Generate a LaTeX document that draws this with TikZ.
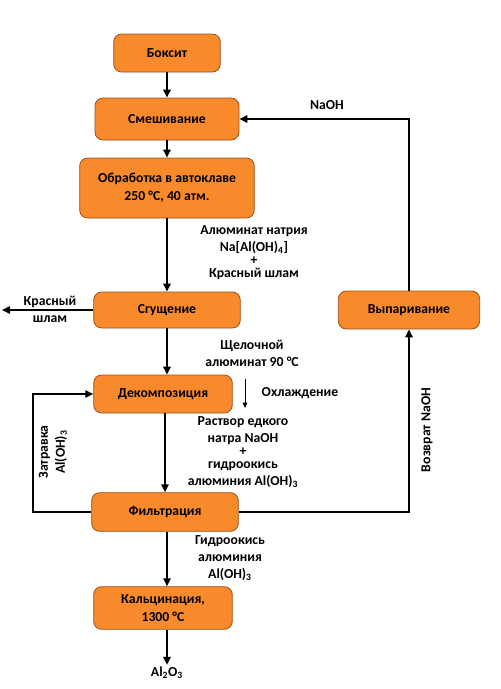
\documentclass[tikz,border=0pt]{standalone}
\usepackage{fontspec}
\setmainfont{Carlito}
\usetikzlibrary{arrows.meta}
\definecolor{procfill}{HTML}{F98A2C}
\definecolor{procline}{HTML}{9A4E1C}
\begin{document}
\begin{tikzpicture}[x=0.75pt,y=-0.75pt,>={Triangle[length=6pt,width=5.5pt]},line width=1.4pt]
	\def \mainx{167}
	\def \loopx{409}

	\tikzstyle{proc}=[rectangle,rounded corners=6pt,draw=procline,fill=procfill,line width=0.6pt,align=center,font=\bfseries\fontsize{10.3}{13.5}\selectfont,inner sep=2pt]
	\tikzstyle{annot}=[align=center,font=\bfseries\fontsize{10.3}{12.75}\selectfont,inner sep=1pt]

	\useasboundingbox (0,0) rectangle (500,689);

	% main column
	\node[proc,minimum width=80pt,minimum height=28.5pt]	(bauxite)	at (\mainx,53)	{Боксит};
	\node[proc,minimum width=108pt,minimum height=31.5pt]	(mix)	at (\mainx,119)	{Смешивание};
	\node[proc,minimum width=131pt,minimum height=45pt]	(autoclave)	at (\mainx,188)	{Обработка в автоклаве\\250 °C, 40 атм.};
	\node[proc,minimum width=110pt,minimum height=27pt]	(thick)	at (\mainx,310)	{Сгущение};
	\node[proc,minimum width=104pt,minimum height=28.5pt]	(decomp)	at (163,394)	{Декомпозиция};
	\node[proc,minimum width=110pt,minimum height=29pt]	(filtr)	at (165,512)	{Фильтрация};
	\node[proc,minimum width=104pt,minimum height=32pt]	(calc)	at (163,608)	{Кальцинация,\\1300 °C};
	\node[annot]	(product)	at (\mainx,673)	{Al\textsubscript{2}O\textsubscript{3}};

	% right column
	\node[proc,minimum width=106pt,minimum height=28.5pt]	(evap)	at (\loopx,310)	{Выпаривание};

	% labels
	\node[annot]	(aluminate)	at (254,253)	{Алюминат натрия\\Na[Al(OH)\textsubscript{4}]\\[-3pt]+\\[-3pt]Красный шлам};
	\node[annot]	(mud)	at (50,309)	{Красный\\шлам};
	\node[annot]	(alkaline)	at (252,353)	{Щелочной\\алюминат 90 °C};
	\node[annot]	(cooling)	at (300,393)	{Охлаждение};
	\node[annot]	(solution)	at (243,452)	{Раствор едкого\\натра NaOH\\[-3pt]+\\[-3pt]гидроокись\\алюминия Al(OH)\textsubscript{3}};
	\node[annot]	(hydroxide)	at (230,558)	{Гидроокись\\алюминия\\Al(OH)\textsubscript{3}};
	\node[annot]	(naoh)	at (327,105)	{NaOH};
	\node[annot,rotate=90]	(return)	at (427,430)	{Возврат NaOH};
	\node[annot,rotate=90]	(seed)	at (53,452)	{Затравка\\Al(OH)\textsubscript{3}};

	\coordinate (mudend) at (2,310);
	\coordinate (cooltop) at (245,379);
	\coordinate (coolbot) at (245,408);

	\draw[->] (bauxite) -- (mix);
	\draw[->] (mix) -- (autoclave);
	\draw[->] (autoclave) -- (thick);
	\draw[->] (thick) -- (decomp.north -| thick);
	\draw[->] (decomp.south -| filtr) -- (filtr);
	\draw[->] (filtr.south -| \mainx,0) -- (calc.north -| \mainx,0);
	\draw[->] (calc.south -| \mainx,0) -- (product);
	\draw[->] (thick) -- (mudend);
	\draw[->] (filtr.east) -| (evap.south);
	\draw[->] (evap.north) |- (mix.east);
	\draw[->] (filtr.west) -- ++(-58,0) |- (decomp.west);
	\draw[->,line width=0.6pt,>={Triangle[length=4pt,width=3.5pt]}] (cooltop) -- (coolbot);
\end{tikzpicture}
\end{document}
